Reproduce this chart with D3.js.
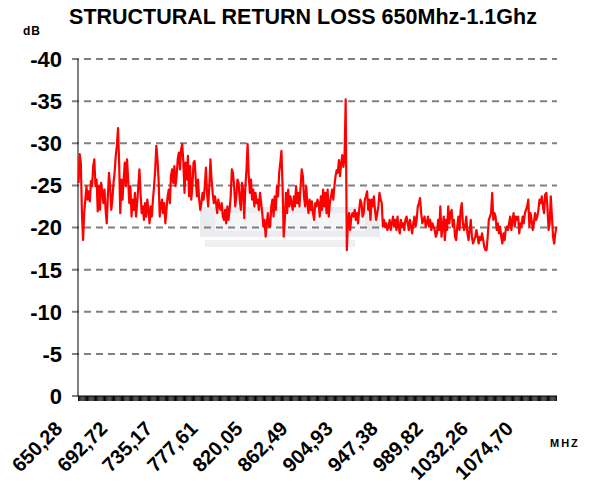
<!DOCTYPE html>
<meta charset="utf-8">
<style>
  body { margin: 0; background: #fff; }
  text { font-family: Arial, "Liberation Sans", sans-serif; font-weight: bold; }
  .grid line { stroke: #808080; stroke-width: 2px; stroke-dasharray: 7,5; }
</style>
<body>
<script src="https://d3js.org/d3.v7.min.js"></script>
<script>
  var width = 593, height = 484;
  var plotLeft = 78, plotRight = 557, plotTop = 59, plotBottom = 396;

  // return loss in dB from left to right
  var lossA = [
    -25.3, -28.7, -27.7, -21.7, -18.5, -21.7, -23.3, -24.9, -23.3, -24.3,
    -23.1, -25.5, -24.9, -27.3, -28.1, -24.9, -25.7, -21.9, -24.9, -22.1,
    -25.3, -24.3, -22.9, -24.5, -22.1, -20.5, -23.7, -26.5, -24.9, -22.1,
    -23.3, -25.3, -26.5, -28.5, -29.7, -31.8, -27.7, -21.7, -25.7, -23.3,
    -25.7, -27.7, -24.9, -28.1, -25.7, -22.9, -24.9, -21.3, -23.3, -22.1,
    -24.1, -21.3, -22.9, -24.9, -26.9, -24.1, -21.7, -22.5, -20.9, -22.9,
    -21.3, -23.3, -22.1, -20.5, -22.5, -21.3, -23.3, -24.9, -26.9, -29.7,
    -28.1, -25.7, -21.3, -22.5, -23.3, -21.7, -22.9, -20.5, -22.1, -23.7,
    -24.5, -22.9, -26.1, -26.9, -25.3, -27.3, -24.9, -26.1, -28.1, -28.9,
    -26.9, -29.3, -29.9, -27.7, -24.1, -27.7, -25.7, -28.5, -23.7, -27.3,
    -23.3, -24.9, -27.7
  ];
  var lossB = [
    -27.9, -25.7, -23.7, -25.7, -23.3, -22.1, -22.9, -24.1, -23.3,
    -24.9, -27.1, -24.1, -22.5, -24.9, -28.1, -25.7, -24.1, -22.9, -23.7,
    -22.9, -21.7, -23.3, -22.5, -22.1, -22.9, -21.3, -20.9, -22.1,
    -20.5, -22.5, -20.9, -22.1, -23.7, -26.9, -26.5, -24.9, -22.5, -23.7,
    -25.7, -25.3, -23.3, -22.1, -25.3, -24.5, -21.1, -24.9, -26.9, -29.9,
    -26.1, -24.1, -25.7, -23.3, -24.5, -22.5, -24.1, -22.9, -23.3,
    -22.1, -24.1, -22.9, -21.7, -20.1, -20.9, -18.9, -20.5, -21.7, -20.1,
    -20.1, -22.5, -23.3, -21.3, -23.7, -22.1, -24.9, -23.7, -26.5,
    -27.7, -29.1, -24.9, -18.9, -20.9, -24.1, -21.7, -24.5, -22.5, -23.7,
    -22.9, -22.1, -23.7, -22.5, -24.9, -22.9, -24.1, -22.5, -24.9,
    -26.9, -26.1, -23.7, -22.5, -24.9, -22.9, -21.7, -23.3, -22.1,
    -23.1, -21.7, -20.9, -22.9
  ];
  var lossC = [
    -22.5, -23.3, -22.9, -21.3, -23.7, -22.1, -24.5, -22.5, -24.1, -21.7,
    -24.5, -21.3, -22.9, -23.7, -24.5, -23.3, -24.9, -26.1, -26.8, -26.5,
    -28.0, -26.1, -27.6, -28.6, -27.2, -28.4, -35.2, -17.3, -20.5, -21.7,
    -19.7, -21.3, -21.7, -21.3, -22.1, -20.9, -21.7, -20.5, -22.1, -23.3,
    -22.9, -21.3, -21.7, -23.3, -23.7, -24.3, -22.1, -23.3, -20.9, -23.3,
    -22.5, -23.7, -22.1, -20.9, -21.7, -22.5, -24.1, -23.3, -22.9, -20.1,
    -20.9, -20.1, -20.5, -19.7, -20.1, -20.9, -19.7, -20.5, -21.3, -20.1,
    -20.9, -19.7, -21.3, -20.1, -19.3, -20.9, -20.1, -20.5, -19.7, -20.9,
    -21.3, -20.5, -19.7, -20.9, -20.1, -19.3, -20.5, -21.3, -20.1, -20.9,
    -22.5, -22.9, -23.5, -21.7, -20.5, -20.9, -21.3, -20.1, -20.5, -21.3,
    -20.1, -20.9, -19.7, -20.5, -20.1, -19.7, -18.9, -19.3
  ];
  var lossD = [
    -20.9, -19.7, -22.5, -18.9, -20.1, -21.3, -18.5, -20.9, -19.7,
    -22.5, -20.5, -21.7, -22.1, -20.1, -20.9, -18.9, -18.5, -20.1,
    -21.3, -19.7, -22.1, -22.9, -20.5, -19.7, -20.1, -21.3, -19.3,
    -18.5, -19.7, -20.9, -18.9, -18.1, -18.5, -18.9, -19.7, -18.9,
    -18.1, -18.9, -18.5, -19.3, -18.5, -17.7, -17.3, -17.3, -18.9,
    -20.9, -21.3, -21.7, -24.1, -20.9, -21.7, -21.3, -19.7, -20.5,
    -19.3, -20.1, -18.9, -18.1, -19.3, -18.5, -19.7, -20.1, -19.7,
    -20.5, -21.3, -19.7, -20.9, -21.7, -20.1, -21.3, -20.9, -21.3,
    -19.3, -20.5, -20.1, -21.3, -20.5, -21.7, -22.1, -22.5, -23.3,
    -20.1, -21.7, -20.9, -19.7, -20.5, -21.7, -20.9, -21.3,
    -22.1, -23.3, -22.9, -23.7, -22.5, -21.7, -23.9, -24.1, -22.5,
    -19.7, -20.5, -23.7, -21.3, -18.9, -18.1, -19.3, -20.1
  ];
  var loss = lossA.concat(lossB, lossC, lossD);

  var tickLabels = ["650,28", "692,72", "735,17", "777,61", "820,05", "862,49",
                    "904,93", "947,38", "989,82", "1032,26", "1074,70"];
  var labelEvery = 40;
  var yTicks = [0, -5, -10, -15, -20, -25, -30, -35, -40];

  var svg = d3.select("body").append("svg")
      .attr("width", width)
      .attr("height", height);

  var x = d3.scaleBand()
      .domain(d3.range(loss.length))
      .range([plotLeft, plotRight])
      .padding(0);
  var y = d3.scaleLinear()
      .domain([0, -40])
      .range([plotBottom, plotTop]);

  // faint watermark behind the trace
  var wm = svg.append("g").attr("opacity", 0.55);
  wm.append("rect").attr("x", 200).attr("y", 207).attr("width", 180).attr("height", 30).attr("fill", "#d9dde3");
  wm.append("rect").attr("x", 215).attr("y", 213).attr("width", 150).attr("height", 18).attr("fill", "#eceef1");
  wm.append("rect").attr("x", 205).attr("y", 240).attr("width", 150).attr("height", 7).attr("fill", "#dfe2e6");

  // dashed grid lines
  svg.append("g")
      .attr("class", "grid")
    .selectAll("line")
    .data(yTicks.filter(function(d) { return d != 0; }))
    .enter().append("line")
      .attr("x1", plotLeft - 6)
      .attr("x2", plotRight)
      .attr("y1", function(d) { return y(d); })
      .attr("y2", function(d) { return y(d); });

  svg.append("line")
      .attr("x1", plotLeft - 6).attr("x2", plotLeft)
      .attr("y1", y(0)).attr("y2", y(0))
      .attr("stroke", "#808080").attr("stroke-width", 2);

  // y labels
  svg.append("g")
    .selectAll("text")
    .data(yTicks)
    .enter().append("text")
      .attr("x", 62)
      .attr("y", function(d) { return y(d); })
      .attr("dy", "0.36em")
      .attr("text-anchor", "end")
      .style("font-size", "22px")
      .text(function(d) { return d; });

  // category ticks, one per point
  var xAxis = svg.append("g")
      .attr("transform", "translate(0," + plotBottom + ")")
      .call(d3.axisBottom(x).tickSize(5).tickFormat(""));
  xAxis.select(".domain").remove();
  xAxis.selectAll("line").attr("stroke", "#000").attr("stroke-width", 1);
  svg.append("line")
      .attr("x1", plotLeft).attr("x2", plotRight)
      .attr("y1", plotBottom).attr("y2", plotBottom)
      .attr("stroke", "#000");

  // y axis line
  svg.append("line")
      .attr("x1", plotLeft).attr("x2", plotLeft)
      .attr("y1", plotTop).attr("y2", plotBottom)
      .attr("stroke", "#000");

  // rotated category labels
  svg.append("g")
    .selectAll("text")
    .data(tickLabels)
    .enter().append("text")
      .attr("transform", function(d, i) {
          var cx = x(i * labelEvery) + x.bandwidth() / 2;
          return "translate(" + (cx - 15) + "," + (plotBottom + 34) + ") rotate(-45)";
        })
      .attr("text-anchor", "end")
      .style("font-size", "20px")
      .text(function(d) { return d; });

  // the trace
  var line = d3.line()
      .x(function(d, i) { return x(i) + x.bandwidth() / 2; })
      .y(function(d) { return y(d); });
  svg.append("path")
      .datum(loss)
      .attr("fill", "none")
      .attr("stroke", "#ff0000")
      .attr("stroke-width", 2.2)
      .attr("stroke-linejoin", "round")
      .attr("d", line);

  // title and unit labels
  svg.append("text")
      .attr("x", 303)
      .attr("y", 24)
      .attr("text-anchor", "middle")
      .style("font-size", "21.5px")
      .text("STRUCTURAL RETURN LOSS 650Mhz-1.1Ghz");
  svg.append("text")
      .attr("x", 23)
      .attr("y", 35)
      .style("font-size", "12px")
      .style("letter-spacing", "1px")
      .text("dB");
  svg.append("text")
      .attr("x", 550)
      .attr("y", 447)
      .style("font-size", "11px")
      .style("letter-spacing", "2px")
      .text("MHZ");
</script>
</body>
